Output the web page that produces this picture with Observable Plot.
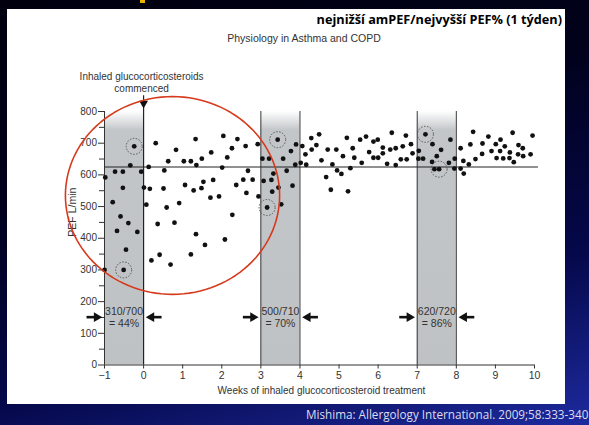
<!DOCTYPE html>
<html>
<head>
<meta charset="utf-8">
<script src="https://cdn.jsdelivr.net/npm/d3@7"></script>
<script src="https://cdn.jsdelivr.net/npm/@observablehq/plot@0.6"></script>
<style>
html, body { margin: 0; padding: 0; }
body {
  width: 589px; height: 425px; overflow: hidden; position: relative;
  background: linear-gradient(165deg, #00000e 0%, #01011c 35%, #05084a 70%, #1d2a9e 100%);
  font-family: "Liberation Sans", Arial, sans-serif;
}
#panel { position: absolute; left: 7px; top: 9px; width: 558px; height: 395px; background: #ffffff; }
#title { position: absolute; right: 27px; top: 10px; font: bold 12.7px "Open Sans", sans-serif; color: #000; white-space: nowrap; }
#sub { position: absolute; left: 0; width: 608px; top: 32px; text-align: center; font: 10.5px "Liberation Sans", Arial, sans-serif; color: #333; }
#chart { position: absolute; left: 0; top: 0; }
#caption { position: absolute; left: 306px; top: 406px; font: 11.7px "Open Sans", sans-serif; color: #dcdcec; white-space: nowrap; }
#mark { position: absolute; left: 140px; top: 0; width: 5px; height: 3px; background: #e8b400; }
</style>
</head>
<body>
<div id="mark"></div>
<div id="panel"></div>
<div id="title">nejnižší amPEF/nejvyšší PEF% (1 týden)</div>
<div id="sub">Physiology in Asthma and COPD</div>
<div id="chart"></div>
<div id="caption">Mishima: Allergology International. 2009;58:333-340</div>
<script>
// ---- data ----
const weekTicks = [-1, 0, 1, 2, 3, 4, 5, 6, 7, 8, 9, 10];
const pefTicks = [0, 100, 200, 300, 400, 500, 600, 700, 800];
const pefMinorTicks = [50, 150, 250, 350, 450, 550, 650, 750];
const bandStarts = [-1, 3, 7];
const bandRatio = ["310/700", "500/710", "620/720"];
const bandPercent = ["= 44%", "= 70%", "= 86%"];
const referencePEF = 625;
const startWeek = 0;

const weeks = [
  -0.98, -1.0, -0.79, -0.73, -0.68, -0.59, -0.53, -0.53, -0.45, -0.39, -0.51, -0.34, -0.24, -0.16, -0.06,
  0.01, 0.13, 0.07, 0.16, 0.20, 0.31, 0.36, 0.41, 0.51, 0.53, 0.59, 0.63, 0.69, 0.79, 0.83, 0.91,
  1.03, 1.06, 1.21, 1.21, 1.28, 1.33, 1.34, 1.35, 1.48, 1.49, 1.53, 1.57, 1.73, 1.71, 1.78, 1.93,
  2.01, 2.04, 2.08, 2.14, 2.40, 2.27, 2.26, 2.37, 2.61, 2.55, 2.63, 2.67, 2.79, 2.92, 2.94,
  3.04, 3.21, 3.43, 3.57, 3.77, 3.90, 3.88, 3.66, 3.32, 3.27, 3.07, 3.45, 3.29, 3.81, 3.52, 3.16,
  4.06, 4.02, 4.16, 4.14, 4.29, 4.30, 4.42, 4.49, 4.55, 4.67, 4.71, 4.79, 4.83, 4.93, 4.95,
  5.06, 5.10, 5.23, 5.20, 5.29, 5.35, 5.39, 5.54, 5.58, 5.69, 5.77, 5.88, 5.99, 5.88, 6.00,
  6.12, 6.12, 6.23, 6.31, 6.35, 6.45, 6.45, 6.58, 6.63, 6.71, 6.73, 6.84, 6.88,
  7.04, 7.03, 7.15, 7.21, 7.39, 7.50, 7.61, 7.38, 7.44, 7.56, 7.85, 7.81, 7.95, 7.96,
  8.11, 8.11, 8.18, 8.19, 8.32, 8.36, 8.43, 8.49, 8.66, 8.67, 8.82, 8.90, 9.01, 9.03,
  9.13, 9.12, 9.20, 9.24, 9.36, 9.37, 9.44, 9.47, 9.59, 9.58, 9.70, 9.71, 9.90, 9.95
];
const pef = [
  592, 300, 514, 610, 423, 469, 610, 559, 364, 448, 300, 630, 690, 420, 610,
  560, 625, 506, 556, 330, 700, 445, 348, 557, 614, 497, 643, 317, 449, 679, 511,
  643, 568, 643, 349, 551, 713, 413, 631, 558, 651, 578, 379, 671, 528, 584, 532,
  623, 723, 396, 655, 713, 474, 684, 568, 691, 585, 543, 613, 585, 697, 532,
  651, 651, 711, 651, 675, 696, 632, 613, 604, 584, 581, 560, 547, 566, 507, 497,
  691, 638, 632, 665, 716, 680, 694, 728, 646, 593, 680, 553, 633, 680, 614,
  603, 659, 548, 717, 621, 684, 654, 711, 638, 721, 672, 705, 711, 654, 654,
  686, 668, 635, 680, 733, 684, 631, 649, 690, 724, 649, 697, 668,
  676, 651, 651, 728, 697, 659, 679, 641, 618, 618, 711, 638, 620, 651,
  620, 684, 644, 604, 633, 696, 736, 650, 666, 699, 721, 675, 697, 653,
  711, 675, 652, 690, 653, 671, 733, 640, 694, 665, 684, 659, 665, 724
];
const circledWeeks = [-0.51, -0.24, 3.16, 3.43, 7.21, 7.56];
const circledPef = [300, 690, 497, 711, 728, 618];

// annotation geometry (data units)
const ellipseCenter = [0.74, 535];
const ellipseRadii = [2.74, 312];

// ---- build ----
const points = weeks.map((w, i) => ({w, v: pef[i]}));
const circled = circledWeeks.map((w, i) => ({w, v: circledPef[i]}));
const bands = bandStarts.map((s, i) => ({s, e: s + 1, ratio: bandRatio[i], pct: bandPercent[i]}));
const ellipse = d3.range(0, 121).map(k => {
  const t = (k / 120) * 2 * Math.PI;
  return {w: ellipseCenter[0] + ellipseRadii[0] * Math.cos(t), v: ellipseCenter[1] + ellipseRadii[1] * Math.sin(t)};
});

const defs = () => {
  const ns = "http://www.w3.org/2000/svg";
  const d = document.createElementNS(ns, "defs");
  const g = document.createElementNS(ns, "linearGradient");
  g.setAttribute("id", "bandGrad");
  g.setAttribute("x1", "0"); g.setAttribute("y1", "0"); g.setAttribute("x2", "0"); g.setAttribute("y2", "1");
  [["0", "#ffffff"], ["0.075", "#c3c6c9"], ["1", "#bfc2c5"]].forEach(([o, c]) => {
    const s = document.createElementNS(ns, "stop");
    s.setAttribute("offset", o); s.setAttribute("stop-color", c);
    g.appendChild(s);
  });
  d.appendChild(g);
  return d;
};

const axisColor = "#333";
const chart = Plot.plot({
  width: 589, height: 425,
  marginLeft: 104, marginRight: 55, marginTop: 111, marginBottom: 60.5,
  x: {domain: [-1, 10]},
  y: {domain: [0, 800]},
  style: {background: "transparent", fontFamily: "'Liberation Sans', Arial, sans-serif", fontSize: "10px", color: "#333"},
  marks: [
    defs,
    Plot.rect(bands, {x1: "s", x2: "e", y1: 0, y2: 800, fill: "url(#bandGrad)"}),
    Plot.ruleX(bands.flatMap(b => [b.s, b.e]).filter(v => v > -1 && v !== startWeek), {y1: 0, y2: 800, stroke: "#3a3a3a", strokeWidth: 1}),
    Plot.ruleX([startWeek], {y1: 0, y2: 850, stroke: "#222", strokeWidth: 1.2}),
    Plot.dot([startWeek], {x: d => d, y: 826, symbol: "triangle", rotate: 180, r: 3.3, fill: "#111", stroke: "none"}),
    Plot.ruleY([referencePEF], {x1: -1, x2: 10.1, stroke: "#222", strokeWidth: 1.1}),
    Plot.ruleX([-1], {y1: 0, y2: 800, stroke: axisColor}),
    Plot.ruleY([0], {x1: -1, x2: 10, stroke: axisColor}),
    Plot.axisY({ticks: pefTicks, tickSize: 6, tickPadding: 1.5, label: null, stroke: axisColor, fontSize: 10}),
    Plot.axisY({ticks: pefMinorTicks, tickSize: 5, tickFormat: () => "", label: null, stroke: axisColor}),
    Plot.axisX({ticks: weekTicks, tickSize: 4, tickPadding: 3, label: null, stroke: axisColor, fontSize: 10.5}),
    Plot.text(["Weeks of inhaled glucocorticosteroid treatment"], {x: 4.55, y: 0, dy: 26, fontSize: 10, fill: "#333"}),
    Plot.text(["PEF L/min"], {frameAnchor: "left", y: 405, dx: -32, rotate: -90, fontSize: 10.5, fill: "#333"}),
    Plot.text(["Inhaled glucocorticosteroids"], {x: startWeek, y: 908, dx: -2, fontSize: 10, fill: "#333"}),
    Plot.text(["commenced"], {x: startWeek, y: 872, dx: -2, fontSize: 10, fill: "#333"}),
    // band annotations
    Plot.text(bands, {x: d => d.s + 0.5, y: 167, text: "ratio", fontSize: 10.5, fill: "#333"}),
    Plot.text(bands, {x: d => d.s + 0.5, y: 132, text: "pct", fontSize: 10.5, fill: "#333"}),
    Plot.link(bands, {x1: d => d.s - 0.46, x2: d => d.s - 0.16, y1: 151, y2: 151, stroke: "#111", strokeWidth: 2.6}),
    Plot.dot(bands, {x: d => d.s - 0.2, y: 151, symbol: "triangle", rotate: 90, r: 3.6, fill: "#111", stroke: "none"}),
    Plot.link(bands, {x1: d => d.e + 0.46, x2: d => d.e + 0.16, y1: 151, y2: 151, stroke: "#111", strokeWidth: 2.6}),
    Plot.dot(bands, {x: d => d.e + 0.2, y: 151, symbol: "triangle", rotate: -90, r: 3.6, fill: "#111", stroke: "none"}),
    // data
    Plot.dot(points, {x: "w", y: "v", r: 2.4, fill: "#111", stroke: "none"}),
    Plot.dot(circled, {x: "w", y: "v", r: 8, fill: "none", stroke: "#555", strokeWidth: 1, strokeDasharray: "1.5,1.5"}),
    Plot.line(ellipse, {x: "w", y: "v", stroke: "#d63a1c", strokeWidth: 1.6, curve: "linear-closed"})
  ]
});
document.getElementById("chart").appendChild(chart);
</script>
</body>
</html>
